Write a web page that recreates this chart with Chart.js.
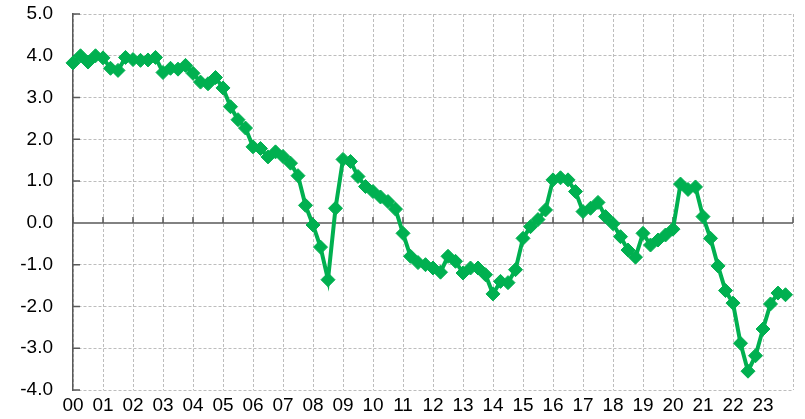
<!DOCTYPE html>
<html>
<head>
<meta charset="utf-8">
<script src="https://cdn.jsdelivr.net/npm/chart.js@4"></script>
<style>
    html, body { margin: 0; padding: 0; background: #fff; }
    #chart { display: block; }
</style>
</head>
<body>
<canvas id="chart" width="805" height="419"></canvas>
<script>
// Etykiety lat (osi X), jeden rok = 4 kwartały
const years = ['00', '01', '02', '03', '04', '05', '06', '07', '08', '09', '10', '11',
    '12', '13', '14', '15', '16', '17', '18', '19', '20', '21', '22', '23'];

// Wartości kwartalne 2000Q1 - 2023Q4
const values = [
    3.83, 4.00, 3.85, 4.00,
    3.95, 3.70, 3.65, 3.96,
    3.91, 3.89, 3.90, 3.96,
    3.60, 3.70, 3.68, 3.77,
    3.58, 3.37, 3.33, 3.48,
    3.23, 2.78, 2.47, 2.27,
    1.82, 1.78, 1.58, 1.70,
    1.59, 1.43, 1.13, 0.42,
    -0.05, -0.58, -1.36, 0.35,
    1.52, 1.47, 1.11, 0.87,
    0.75, 0.62, 0.51, 0.33,
    -0.25, -0.80, -0.95, -1.00,
    -1.08, -1.18, -0.80, -0.92,
    -1.20, -1.08, -1.08, -1.24,
    -1.70, -1.40, -1.43, -1.12,
    -0.37, -0.09, 0.08, 0.31,
    1.03, 1.08, 1.03, 0.75,
    0.27, 0.35, 0.49, 0.15,
    -0.02, -0.33, -0.65, -0.82,
    -0.25, -0.53, -0.41, -0.29,
    -0.15, 0.93, 0.80, 0.86,
    0.15, -0.37, -1.03, -1.62,
    -1.92, -2.88, -3.55, -3.18,
    -2.54, -1.94, -1.68, -1.72
];

const yTicks = [-4, -3, -2, -1, 0, 1, 2, 3, 4, 5];

const GREEN = '#00B050';
const GRID = '#bdbdbd';
const AXIS = '#595959';
const FONT = { family: '"Liberation Sans", Arial, sans-serif', size: 19 };

// Linia zera i krótkie kreski podziałki
const axisPlugin = {
    id: 'axisPlugin',
    beforeDatasetsDraw(chart) {
        const { ctx, chartArea, scales } = chart;
        const x = scales.x;
        const y = scales.y;
        const y0 = y.getPixelForValue(0);
        ctx.save();
        ctx.strokeStyle = AXIS;
        ctx.lineWidth = 1.5;
        ctx.setLineDash([]);
        ctx.beginPath();
        ctx.moveTo(chartArea.left, y0);
        ctx.lineTo(chartArea.right, y0);
        // kreski na osi zera (co rok)
        for (let i = 0; i <= years.length; i++) {
            const px = x.getPixelForValue(i * 4);
            ctx.moveTo(px, y0);
            ctx.lineTo(px, y0 - 6);
        }
        // kreski na osi Y
        yTicks.forEach(v => {
            const py = y.getPixelForValue(v);
            ctx.moveTo(chartArea.left, py);
            ctx.lineTo(chartArea.left + 7, py);
        });
        ctx.stroke();
        ctx.restore();
    }
};

new Chart(document.getElementById('chart'), {
    type: 'line',
    data: {
        datasets: [{
            data: values.map((v, i) => ({ x: i, y: v })),
            borderColor: GREEN,
            backgroundColor: GREEN,
            borderWidth: 4,
            pointStyle: 'rectRot',
            pointRadius: 7,
            pointBorderWidth: 1,
            pointBackgroundColor: GREEN,
            pointBorderColor: GREEN,
            tension: 0,
            clip: false
        }]
    },
    options: {
        responsive: false,
        animation: false,
        layout: {
            autoPadding: false,
            padding: { top: 14, right: 12, left: 0, bottom: 0 }
        },
        plugins: {
            legend: { display: false },
            tooltip: { enabled: false }
        },
        scales: {
            x: {
                type: 'linear',
                min: 0,
                max: years.length * 4,
                afterFit: scale => {
                    scale.height = 29;
                    scale.paddingLeft = 0;
                    scale.paddingRight = 0;
                },
                border: { display: false, dash: [3, 2] },
                grid: { color: GRID, lineWidth: 1, drawTicks: false },
                ticks: {
                    stepSize: 4,
                    autoSkip: false,
                    maxRotation: 0,
                    padding: 4,
                    color: '#000',
                    font: FONT,
                    callback: v => (v / 4 < years.length ? years[v / 4] : '')
                }
            },
            y: {
                min: -4,
                max: 5,
                afterFit: scale => {
                    scale.width = 73;
                    scale.paddingTop = 0;
                    scale.paddingBottom = 0;
                },
                border: { display: true, color: AXIS, width: 1.5, dash: [3, 2] },
                grid: {
                    color: c => (c.tick && c.tick.value === 0 ? 'rgba(0,0,0,0)' : GRID),
                    lineWidth: 1,
                    drawTicks: false
                },
                ticks: {
                    stepSize: 1,
                    padding: 20,
                    color: '#000',
                    font: FONT,
                    callback: v => v.toFixed(1)
                }
            }
        }
    },
    plugins: [axisPlugin]
});
</script>
</body>
</html>
